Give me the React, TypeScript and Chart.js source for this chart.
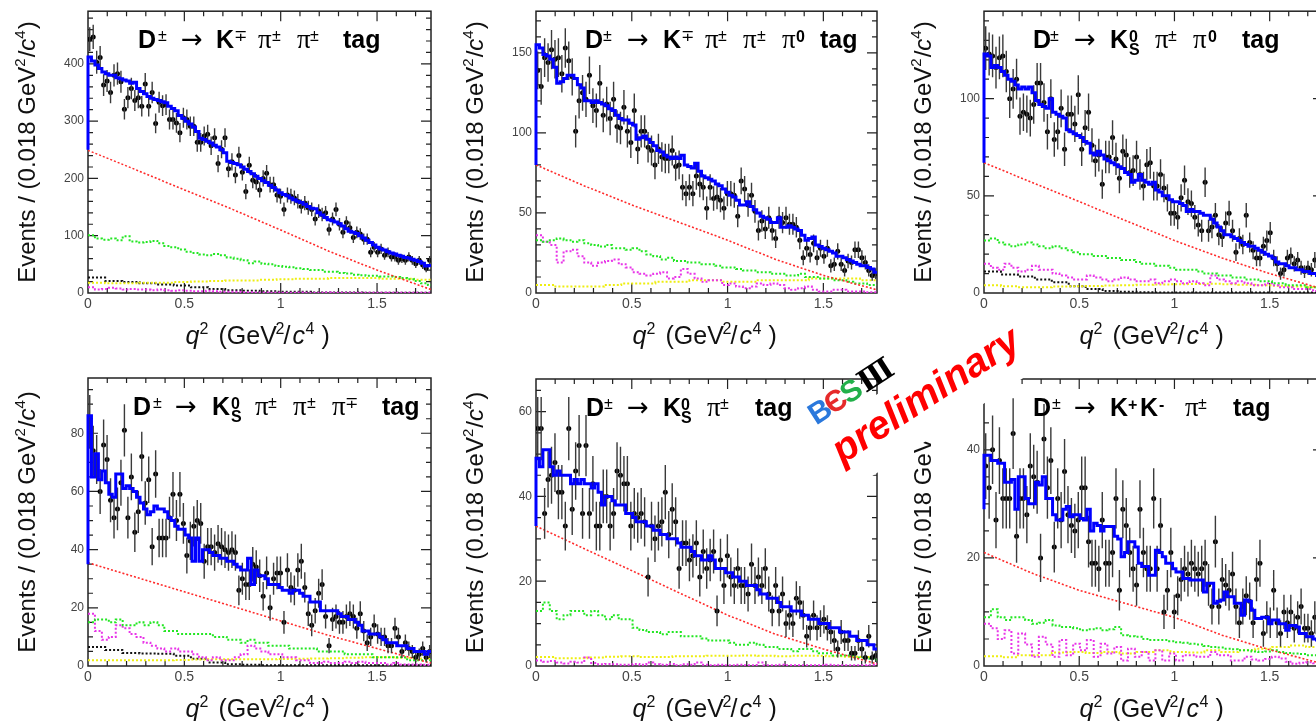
import React, { useEffect, useRef } from "react";
import { Chart, registerables } from "chart.js";
Chart.register(...registerables);

// ---------- binning / axis constants ----------
const BIN = 0.018;
const BG_BIN = 0.036;
const FLAT_BIN = 0.089;
const X_MAX = 1.78;
const X_LABELS = [0, 0.5, 1, 1.5];
const RED_Q = [0, 0.25, 0.5, 0.75, 1.0, 1.25, 1.5, 1.78];

// ---------- panel 1: D -> K pi pi ----------
const p1Data = [443,447,403,411,363,370,350,380,383,369,321,341,357,336,341,326,365,326,350,296,333,327,329,303,303,297,280,306,303,291,291,263,263,274,277,257,271,226,251,271,217,229,206,240,211,177,223,197,194,180,200,209,189,189,171,169,146,171,169,166,160,151,157,149,146,129,143,137,140,111,129,146,120,106,123,114,97,106,103,94,94,71,80,71,77,66,71,63,63,57,60,57,63,57,51,57,49,43,57];
const p1Fit = [412,405,398,392,386,383,380,380,376,374,372,370,366,368,357,352,348,343,340,338,336,334,332,326,322,318,310,305,300,295,290,282,270,268,265,262,258,255,250,245,230,228,226,224,220,216,212,208,204,200,196,193,188,184,180,175,172,170,166,163,160,158,155,151,148,147,140,136,132,128,126,124,121,117,112,108,106,104,100,96,92,88,84,80,77,75,72,70,68,66,64,62,61,59,57,55,52,47,48];
const p1FitStart = 250;
const p1Red = [249,215,180,146,110,73,40,6];
const p1Green = [101,95,93,95,92,99,90,88,89,91,87,82,80,76,72,70,67,66,68,66,62,60,57,52,55,51,50,47,46,45,43,42,40,40,37,37,35,34,32,31,30,30,29,29,28,26,24,21,17,14];
const p1Magenta = [10,6,7,9,8,6,7,6,6,5,6,5,4,5,4,3,3,4,3,2,2,2,1.5,1.5,1,1,0.5,1,0.5,0.5,1,0.5,0.5,0.5,1,0.5,0.5,0.5,0.3,0.5,0.3,0.3,0.5,0.3,0.3,0.3,0.3,0.3,0.3,0.3];
const p1Yellow = [18,17,17,18,18,19,20,21,22,22,23,24,25,25,26,26,26,25,25,23];
const p1Black = [27,21,19,17,15,13,10,7,5,4,3,2,2,1,1,1,0.5,0.5,0.5,0.5];
const p1YTicks = [0,100,200,300,400];

// ---------- panel 2: D -> K pi pi pi0 ----------
const p2Data = [139,129,147,144,152,146,147,137,153,145,135,101,120,125,121,136,117,114,131,111,118,109,121,104,103,116,101,94,114,90,101,101,91,89,80,90,85,84,84,89,79,80,66,62,66,62,73,68,66,53,66,59,60,58,53,62,62,61,48,70,65,55,61,51,39,45,40,47,39,34,47,44,47,43,43,41,33,22,28,24,31,22,28,23,28,17,18,26,18,14,20,19,27,27,22,19,14,11,12];
const p2Fit = [155,153,149,148,146,141,131,132,134,136,136,134,130,128,120,120,119,120,119,118,117,115,114,111,109,108,108,106,105,96,97,98,96,94,92,89,88,86,85,84,85,84,86,80,79,78,81,76,73,72,71,70,68,67,65,63,61,60,58,55,55,57,54,52,50,48,47,46,44,44,47,41,41,42,41,40,39,36,33,34,35,30,29,28,27,26,25,23,23,22,21,20,19,18,17,17,16,15,13];
const p2FitStart = 80;
const p2Red = [80,67,55,44,33,21,11,2];
const p2Green = [33,32,33,34,33,32,33,31,30,29,30,28,28,27,28,26,24,23,21,22,20,20,19,19,18,18,17,16,16,15,14,14,13,13,12,12,11,11,12,10,10,9,9,8,8,7,6,6,5,5];
const p2Magenta = [36,32,30,19,26,27,23,19,17,19,20,21,18,16,13,12,11,12,13,9,10,15,12,9,7,8,8,5,6,4,3,4,6,5,6,5,3,2,3,4,2,1,1,2,2,1,1,1,0.5,0.5];
const p2Yellow = [5,4,4,4,5,6,6,7,7,8,8,7,7,8,8,8,9,9,9,8];
const p2Black: number[] = [];
const p2YTicks = [0,50,100,150];

// ---------- panel 3: D -> KS pi pi0 ----------
const p3Data = [126,123,122,116,121,122,114,100,105,110,91,93,92,90,97,108,108,98,83,100,79,83,95,74,92,92,87,102,74,85,93,76,68,71,56,70,70,80,69,59,73,71,62,63,70,61,55,66,67,55,55,61,54,49,41,41,39,49,58,47,46,39,35,32,57,32,34,40,30,29,36,41,32,21,28,25,40,26,22,18,18,24,27,31,18,15,10,12,18,19,15,17,13,11,13,12,17,10,9];
const p3Fit = [123,122,116,117,116,114,112,110,109,107,105,106,105,106,103,99,97,96,95,100,93,92,91,90,84,83,82,81,80,78,77,72,71,73,71,69,68,67,66,65,64,62,61,57,58,61,58,57,56,57,53,52,50,50,48,47,47,46,45,42,43,42,42,41,40,40,38,36,34,32,30,30,29,28,27,26,25,24,24,23,22,21,20,19,18,16,15,15,14,13,13,12,12,11,11,10,10,9,9];
const p3FitStart = 67;
const p3Red = [67,57,47,37,27,18,10,2];
const p3Green = [27,28,26,25,24,25,26,25,24,23,24,23,22,21,20,20,19,19,18,18,17,17,16,15,15,14,14,13,12,12,12,11,10,10,9,9,8,8,7,7,6,6,5,5,4,4,4,3,3,3];
const p3Magenta = [15,13,12,15,13,11,12,14,12,12,10,9,8,7,7,9,8,7,6,7,8,7,6,6,7,5,6,7,6,5,6,5,4,9,7,6,5,6,5,4,4,5,4,3,3,2,2,2,1,1];
const p3Yellow = [4,3.5,3,3,3.4,3.5,3.6,3.8,4,4.2,4.4,4.5,4.6,4.7,4.5,4.2,4,3.7,3.4,3];
const p3Black = [11,9.5,8.5,7,5.5,3.5,2,1,0.6,0.4,0.3,0.3,0.3,0.2,0.2,0.2,0.2,0.2,0.2,0.2];
const p3YTicks = [0,50,100];

// ---------- panel 4: D -> KS pi pi pi ----------
const p4Data = [84,74,71,60,76,71,57,51,54,63,81,51,65,46,53,72,56,64,41,66,44,44,44,51,59,50,59,49,38,43,48,50,49,36,41,41,39,42,41,40,39,40,39,26,30,28,28,35,34,31,24,32,20,30,32,32,15,33,27,26,33,36,27,18,14,19,25,28,17,7,16,17,15,15,17,18,17,13,18,12,8,10,14,11,10,10,7,7,13,10,5,8,6,5,3,4,6,3,5];
const p4Fit = [86,65,73,64,67,63,59,58,66,66,61,62,61,60,58,56,54,52,53,55,54,54,53,51,50,48,47,47,45,44,36,44,36,40,40,39,38,38,37,37,36,36,35,34,33,33,37,28,33,31,31,30,28,28,28,27,26,26,25,26,26,25,24,24,22,22,22,19,19,19,19,19,18,17,17,16,16,15,14,12,12,11,11,11,10,9,8,8,8,7,7,7,6,6,5,5,5,4,5];
const p4FitStart = 35;
const p4Red = [35.5,30.5,25.5,20.5,15.5,10.5,6,1];
const p4Green = [15,16,16,15,16,14,14,15,14,15,14,12,12,11,11,11,11,11,10,10,9,9,8,9,8,8,7,7,7,6,6,6,6,5,5,5,5,4,4,4,4,3,3,3,3,3,2,2,2,2];
const p4Magenta = [18,12,9,10,14,13,11,10,8,7,6,5,6,5,5,4,3,2,3,2,2,3,4,7,6,5,4,4,3,3,2,2,1,1,1.5,1,1,1.5,1,1.5,1,1,1,0.5,1,0.5,0.5,0.5,0.4,0.4];
const p4Yellow = [2,2,2,2,2,2.1,2.2,2.3,2.3,2.3,2.3,2.4,2.5,2.6,2.7,2.8,3,3,2.8,2.6];
const p4Black = [6.5,5.5,4.5,4.3,4.2,3.5,2.5,1.2,0.6,0.4,0.3,0.3,0.3,0.3,0.3,0.3,0.3,0.3,0.3,0.3];
const p4YTicks = [0,20,40,60,80];

// ---------- panel 5: D -> KS pi ----------
const p5Data = [56,56,36,44,45,48,41,41,33,56,37,46,52,36,52,36,43,33,33,40,40,33,36,46,45,43,43,33,36,35,36,34,21,33,30,33,34,41,31,37,34,23,29,29,25,26,29,21,27,23,25,27,13,25,19,26,21,19,23,19,19,17,24,19,21,19,23,17,13,19,13,17,10,12,10,16,15,12,7,9,12,9,10,11,9,8,6,4,8,6,6,3,3,6,4,2,7,2,2.5];
const p5Fit = [49,47,51,51,47,45,46,45,45,45,43,44,43,44,43,43,42,43,41,38,40,40,39,38,38,38,36,36,35,34,34,34,33,33,32,32,31,31,30,30,30,29,28,28,28,27,26,26,25,25,26,25,23,23,23,22,22,21,21,20,20,19,19,19,18,17,17,16,16,16,15,14,14,14,13,13,13,12,12,11,11,11,10,10,10,9,9,9,8,8,8,7,7,6,6,6,5,5,4];
const p5FitStart = 33;
const p5Red = [33,27.7,22.5,17.2,12,7.5,4,0.5];
const p5Green = [13,15,13,11,12,13,13,12,13,12,11,12,11,11,9,8.5,8,8,7.5,8,8,7,7,7,6.5,6,6,6,5.5,5,5,5.5,5,4.5,4.5,4,4,3.5,4,4,3.5,3,3,2.5,2.5,2.5,2,2,1.7,1.5];
const p5Magenta = [1.3,1,1.2,0.8,0.6,1,0.8,2,0.7,0.4,0.5,0.4,0.3,0.3,0.5,0.3,0.8,0.4,0.3,0.5,0.2,0.4,0.3,0.8,0.3,0.2,0.3,0.2,0.2,0.3,0.2,0.2,0.8,0.2,0.2,0.3,0.2,0.2,0.2,0.2,0.2,0.2,0.3,0.2,0.2,0.2,0.2,0.2,0.3,0.5];
const p5Yellow = [2.1,1.8,1.8,2,2.2,2.3,2.1,2.1,2.3,2.3,2.4,2.4,2.5,2.4,2.3,2.4,2.4,2.3,2.2,2.1];
const p5Black: number[] = [];
const p5YTicks = [0,20,40,60];

// ---------- panel 6: D -> K K pi ----------
const p6Data = [37,33,40,27,38,31,31,31,43,24,31,31,28,37,35,34,20,42,33,38,22,31,27,36,28,26,25,27,33,33,23,19,19,18,27,19,19,21,31,14,29,26,21,18,15,29,21,18,18,31,18,26,10,14,21,10,13,16,18,17,19,18,17,18,19,15,11,23,11,16,15,14,17,11,8,11,13,12,8,16,19,6,9,8,14,8,6,10,8,10,7,9,11,7,7,6,9,6,5];
const p6Fit = [39,39,38,38,37.5,37.5,34,34,34.5,29,35,35,31,30,30,34,33.5,35,31,31,28,27,27,29,29.5,27.6,28,28,27.3,27,29,25,26.4,26,25,25.8,25.8,25.8,24,23.5,20.2,21,23,23,22,19,18.4,18.4,16.8,16.8,21.4,21,20.2,19,19,18,17.4,17.4,16.2,16.2,15.9,15.9,15.9,15.9,13.7,15.3,15.3,11.6,12,12.2,13.7,12.8,12.8,11.6,11.6,9.4,12.2,12,10.3,8.8,8.8,9,9,7.8,8.5,8.5,7.8,7.8,6.6,7.5,7.5,7.2,6,6,5.4,5.4,5,4.8,4.5];
const p6FitStart = 29;
const p6Red = [21,17.2,14,11.5,9,5.7,3,0.4];
const p6Green = [9,10.5,9,8.5,9,9,8.5,7.8,8,8.5,7.5,7.2,7.2,7,6.6,6.8,7,6.6,6.8,7.2,5.7,5.5,5.4,5,4.8,4.8,4.8,4.6,4.4,4.3,4.1,4,3.7,3.5,3.4,3.2,3.1,2.9,2.9,2.7,2.6,2.7,2.9,2.6,2.4,2.3,2.2,2,2,1.9];
const p6Magenta = [7.8,7,5,6.6,2.3,6,4,1.7,5.4,4,1.7,4.8,2,4.1,2.9,4.8,1.7,4.1,2.3,3.5,1,3.2,1.7,2.6,1,2.9,1,2.3,1,2,2,1.7,1.7,2.6,2,2,1,1,1.7,1.2,1,1.3,1.7,1.4,0.8,0.4,0.6,0.7,0.5,0.5];
const p6Yellow = [1.8,1.6,2,2,2.5,2.6,2.4,2.6,2.3,2.6,2.9,2.6,2.5,2.9,2.6,2.9,3.2,3.5,3.8,3.5];
const p6Black: number[] = [];
const p6YTicks = [0,20,40];

// ---------- titles (text, style, x offset) ----------
type Seg = [string, string, number];
const p1Title: Seg[] = [["D","B",0],["±","S",20],["→","A",43],["K","B",78],["∓","S",96],["π","P",120],["±","S",134],["π","P",159],["±","S",172],["tag","B",205]];
const p2Title: Seg[] = [["D","B",0],["±","S",18],["→","A",42],["K","B",78],["∓","S",96],["π","P",120],["±","S",133],["π","P",158],["±","S",172],["π","P",197],["0","SB",211],["tag","B",235]];
const p3Title: Seg[] = [["D","B",0],["±","S",17],["→","A",41],["K","B",77],["0","SB",96],["S","SUB",96],["π","P",122],["±","S",135],["π","P",160],["0","SB",175],["tag","B",209]];
const p4Title: Seg[] = [["D","B",0],["±","S",20],["→","A",42],["K","B",79],["0","SB",98],["S","SUB",98],["π","P",122],["±","S",135],["π","P",160],["±","S",174],["π","P",199],["∓","S",212],["tag","B",249]];
const p5Title: Seg[] = [["D","B",0],["±","S",18],["→","A",41],["K","B",77],["0","SB",95],["S","SUB",95],["π","P",121],["±","S",134],["tag","B",169]];
const p6Title: Seg[] = [["D","B",0],["±","S",19],["→","A",41],["K","B",77],["+","SB",95],["K","B",107],["-","SB",126],["π","P",152],["±","S",165],["tag","B",200]];

const X_TITLE: Seg[] = [["q","I",0],["2","SUP",14],["(GeV","N",33],["2","SUP",90],["/","N",98],["c","I",107],["4","SUP",120],[")","N",136]];
const Y_TITLE: [string, string][] = [["Events / (0.018 GeV","N"],["2","SUP"],["/","N"],["c","I"],["4","SUP"],[")","N"]];

const SANS = "'Liberation Sans', Arial, Helvetica, sans-serif";
const SEG_FONT: Record<string, string> = {
  B: `bold 25px ${SANS}`,
  A: "26px 'DejaVu Sans', sans-serif",
  P: "27px 'Liberation Serif', 'Times New Roman', serif",
  S: `16px ${SANS}`,
  SB: `bold 16px ${SANS}`,
  SUB: `bold 16px ${SANS}`,
  N: `25px ${SANS}`,
  I: `italic 25px ${SANS}`,
  SUP: `16px ${SANS}`,
};
const SEG_DY: Record<string, number> = { B: 0, A: 0, P: 0, S: -7, SB: -6, SUB: 7, N: 0, I: 0, SUP: -10 };
const YT_FONT: Record<string, string> = { N: `24px ${SANS}`, I: `italic 24px ${SANS}`, SUP: `15px ${SANS}` };
const YT_DY: Record<string, number> = { N: 0, I: 0, SUP: -10 };

// ---------- panel layout ----------
interface Panel {
  box: [number, number, number, number];
  area: [number, number, number, number];
  yMax: number; yTicks: number[]; yMinor: number;
  data: number[]; fit: number[]; fitStart: number; red: number[];
  green: number[]; magenta: number[]; yellow: number[]; black: number[];
  title: Seg[]; titleDx: number;
}

const PANELS: Panel[] = [
  { box: [0, 0, 445, 365], area: [88, 6, 431, 293], yMax: 492, yTicks: p1YTicks, yMinor: 20, data: p1Data, fit: p1Fit, fitStart: p1FitStart, red: p1Red, green: p1Green, magenta: p1Magenta, yellow: p1Yellow, black: p1Black, title: p1Title, titleDx: 50 },
  { box: [445, 0, 445, 365], area: [536, 6, 877, 293], yMax: 176, yTicks: p2YTicks, yMinor: 10, data: p2Data, fit: p2Fit, fitStart: p2FitStart, red: p2Red, green: p2Green, magenta: p2Magenta, yellow: p2Yellow, black: p2Black, title: p2Title, titleDx: 49 },
  { box: [890, 0, 450, 365], area: [984, 6, 1323, 293], yMax: 145, yTicks: p3YTicks, yMinor: 10, data: p3Data, fit: p3Fit, fitStart: p3FitStart, red: p3Red, green: p3Green, magenta: p3Magenta, yellow: p3Yellow, black: p3Black, title: p3Title, titleDx: 49 },
  { box: [0, 360, 445, 361], area: [88, 378, 431, 666], yMax: 99, yTicks: p4YTicks, yMinor: 5, data: p4Data, fit: p4Fit, fitStart: p4FitStart, red: p4Red, green: p4Green, magenta: p4Magenta, yellow: p4Yellow, black: p4Black, title: p4Title, titleDx: 45 },
  { box: [445, 360, 445, 361], area: [536, 379, 877, 666], yMax: 67.7, yTicks: p5YTicks, yMinor: 5, data: p5Data, fit: p5Fit, fitStart: p5FitStart, red: p5Red, green: p5Green, magenta: p5Magenta, yellow: p5Yellow, black: p5Black, title: p5Title, titleDx: 50 },
  { box: [890, 360, 450, 361], area: [984, 379, 1323, 666], yMax: 53.1, yTicks: p6YTicks, yMinor: 5, data: p6Data, fit: p6Fit, fitStart: p6FitStart, red: p6Red, green: p6Green, magenta: p6Magenta, yellow: p6Yellow, black: p6Black, title: p6Title, titleDx: 49 },
];

const Y_AXIS_W = 40;
const X_AXIS_H = 24;
const DATA_IDX = 1;

const stepPoints = (vals: number[], w: number, start?: number) => {
  const pts = vals.map((v, i) => ({ x: i * w, y: v }));
  if (vals.length) pts.push({ x: vals.length * w, y: vals[vals.length - 1] });
  if (start !== undefined) pts.unshift({ x: 0, y: start });
  return pts;
};

function makePlugin(p: Panel) {
  return {
    id: "rootDeco",
    beforeDatasetsDraw(chart: any) {
      const { ctx, chartArea: a, scales } = chart;
      const xs = scales.x, ys = scales.y;
      ctx.save();
      ctx.strokeStyle = "#222";
      ctx.lineWidth = 1.5;
      ctx.strokeRect(a.left, a.top, a.right - a.left, a.bottom - a.top);
      ctx.lineWidth = 1.2;
      ctx.beginPath();
      for (let k = 1; k * 0.1 < X_MAX; k++) {
        const px = xs.getPixelForValue(k * 0.1);
        const len = k % 5 === 0 ? 10 : 5;
        ctx.moveTo(px, a.bottom); ctx.lineTo(px, a.bottom - len);
        ctx.moveTo(px, a.top); ctx.lineTo(px, a.top + len);
      }
      const major = p.yTicks[1] - p.yTicks[0];
      const nMinor = Math.round(major / p.yMinor);
      for (let k = 1; k * p.yMinor < p.yMax; k++) {
        const py = ys.getPixelForValue(k * p.yMinor);
        const len = k % nMinor === 0 ? 10 : 5;
        ctx.moveTo(a.left, py); ctx.lineTo(a.left + len, py);
        ctx.moveTo(a.right, py); ctx.lineTo(a.right - len, py);
      }
      ctx.stroke();
      ctx.restore();
    },
    afterDatasetDraw(chart: any, args: any) {
      if (args.index !== DATA_IDX) return;
      const { ctx, chartArea: a, scales } = chart;
      const xs = scales.x, ys = scales.y;
      ctx.save();
      ctx.beginPath();
      ctx.rect(a.left, a.top, a.right - a.left, a.bottom - a.top);
      ctx.clip();
      ctx.strokeStyle = "#3a3a3a";
      ctx.lineWidth = 1.4;
      ctx.beginPath();
      p.data.forEach((v, i) => {
        const e = Math.sqrt(v);
        const px = xs.getPixelForValue((i + 0.5) * BIN);
        ctx.moveTo(px, ys.getPixelForValue(Math.max(0, v - e)));
        ctx.lineTo(px, ys.getPixelForValue(v + e));
      });
      ctx.stroke();
      ctx.restore();
    },
    afterDraw(chart: any) {
      const { ctx, chartArea: a } = chart;
      ctx.save();
      ctx.fillStyle = "#000";
      ctx.textAlign = "left";
      ctx.textBaseline = "alphabetic";
      const tx = a.left + p.titleDx, ty = a.top + 37;
      for (const [t, st, dx] of p.title) {
        ctx.font = SEG_FONT[st];
        ctx.fillText(t, tx + dx, ty + SEG_DY[st]);
      }
      ctx.fillStyle = "#111";
      const xs0 = (a.left + a.right) / 2 - 74, xb = a.bottom + 51;
      for (const [t, st, dx] of X_TITLE) {
        ctx.font = SEG_FONT[st];
        ctx.fillText(t, xs0 + dx, xb + SEG_DY[st]);
      }
      let total = 0;
      for (const [t, st] of Y_TITLE) { ctx.font = YT_FONT[st]; total += ctx.measureText(t).width + (st === "SUP" ? 1 : 0); }
      ctx.translate(a.left - 53, (a.top + a.bottom) / 2);
      ctx.rotate(-Math.PI / 2);
      let x = -total / 2;
      for (const [t, st] of Y_TITLE) {
        ctx.font = YT_FONT[st];
        ctx.fillText(t, x, YT_DY[st]);
        x += ctx.measureText(t).width + (st === "SUP" ? 1 : 0);
      }
      ctx.restore();
    },
  };
}

function PanelChart({ p }: { p: Panel }) {
  const ref = useRef<HTMLCanvasElement | null>(null);
  useEffect(() => {
    const canvas = ref.current;
    if (!canvas) return;
    const [bx, by, bw, bh] = p.box;
    const [L, T, R, B] = p.area;
    const dotted = (color: string, vals: number[], w: number) => ({
      data: stepPoints(vals, w), borderColor: color, borderWidth: 2, borderDash: [2, 2],
      pointRadius: 0, stepped: true as const, fill: false, clip: 0,
    });
    const chart = new Chart(canvas, {
      type: "line",
      data: {
        datasets: [
          { data: stepPoints(p.fit, BIN, p.fitStart), borderColor: "#0000ff", borderWidth: 3, pointRadius: 0, stepped: true, fill: false, borderJoinStyle: "miter", borderCapStyle: "butt", clip: { left: 2, top: 0, right: 0, bottom: 2 } } as any,
          { data: p.data.map((v, i) => ({ x: (i + 0.5) * BIN, y: v })), showLine: false, pointRadius: 2.5, pointBackgroundColor: "#000", pointBorderWidth: 0, borderColor: "#000", clip: 0 } as any,
          { data: RED_Q.map((q, i) => ({ x: q, y: p.red[i] })), borderColor: "#ff2a2a", borderWidth: 1.6, borderDash: [2, 2], pointRadius: 0, fill: false, clip: 0 } as any,
          dotted("#22e622", p.green, BG_BIN) as any,
          dotted("#e834e8", p.magenta, BG_BIN) as any,
          dotted("#eeee10", p.yellow, FLAT_BIN) as any,
          dotted("#111111", p.black, FLAT_BIN) as any,
        ],
      },
      options: {
        responsive: false,
        animation: false,
        events: [],
        layout: {
          autoPadding: false,
          padding: { left: L - bx - Y_AXIS_W, top: T - by, right: bx + bw - R, bottom: by + bh - B - X_AXIS_H },
        } as any,
        plugins: { legend: { display: false }, tooltip: { enabled: false }, title: { display: false } },
        scales: {
          x: {
            type: "linear", min: 0, max: X_MAX,
            grid: { display: false, drawTicks: false }, border: { display: false },
            ticks: { padding: 3, color: "#444", font: { family: "Liberation Sans", size: 14 }, maxRotation: 0, autoSkip: false, callback: (v: any) => String(+v) },
            afterBuildTicks: (s: any) => { s.ticks = X_LABELS.map((v) => ({ value: v })); },
            afterFit: (s: any) => { s.height = X_AXIS_H; },
          },
          y: {
            type: "linear", min: 0, max: p.yMax,
            grid: { display: false, drawTicks: false }, border: { display: false },
            ticks: { padding: 4, color: "#444", font: { family: "Liberation Sans", size: 12 }, autoSkip: false, callback: (v: any) => String(+v) },
            afterBuildTicks: (s: any) => { s.ticks = p.yTicks.map((v) => ({ value: v })); },
            afterFit: (s: any) => { s.width = Y_AXIS_W; },
          },
        },
      } as any,
      plugins: [makePlugin(p) as any],
    });
    return () => chart.destroy();
  }, [p]);
  const [bx, by, bw, bh] = p.box;
  return (
    <canvas ref={ref} width={bw} height={bh}
      style={{ position: "absolute", left: bx, top: by, width: bw, height: bh, display: "block" }} />
  );
}

export default function App() {
  return (
    <div style={{ position: "fixed", left: 0, top: 0, width: 1316, height: 721, overflow: "hidden", background: "#fff" }}>
      {PANELS.map((p, i) => <PanelChart key={i} p={p} />)}
      <div style={{ position: "absolute", left: 916.7 - 137.5, top: 407.9 - 33, width: 275, height: 66, background: "#fff", transform: "rotate(-33deg)" }} />
      <div style={{ position: "absolute", left: 851, top: 391, transform: "translate(-50%, -50%) rotate(-33deg)", whiteSpace: "nowrap", lineHeight: 1, fontWeight: "bold", fontSize: 30, fontFamily: SANS }}>
        <span style={{ color: "#2a78dc" }}>B</span>
        <span style={{ color: "#e62a2a", marginLeft: -3 }}>Є</span>
        <span style={{ color: "#22b04a", marginLeft: -2 }}>S</span>
        <span style={{ color: "#000", fontFamily: "'DejaVu Serif', serif", marginLeft: 1 }}>Ⅲ</span>
      </div>
      <div style={{ position: "absolute", left: 925, top: 394, transform: "translate(-50%, -50%) rotate(-33deg)", whiteSpace: "nowrap", lineHeight: 1, color: "#ff0000", fontStyle: "italic", fontWeight: "bold", fontSize: 40, fontFamily: SANS }}>
        preliminary
      </div>
    </div>
  );
}
